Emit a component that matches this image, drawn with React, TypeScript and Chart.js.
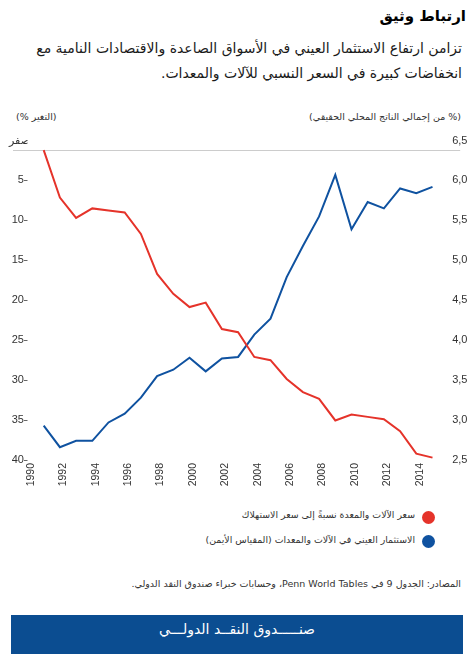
import React, { useEffect, useRef } from "react";
import { Chart, registerables } from "chart.js";

Chart.register(...registerables);

// ---- data ----
const years = [
  1991, 1992, 1993, 1994, 1995, 1996, 1997, 1998, 1999, 2000, 2001, 2002, 2003,
  2004, 2005, 2006, 2007, 2008, 2009, 2010, 2011, 2012, 2013, 2014, 2015,
];
// relative price of machinery & equipment to consumption (% change, left axis, inverted)
const priceRatio = [
  1.2, 7.15, 9.7, 8.5, 8.75, 9.0, 11.7, 16.7, 19.2, 20.85, 20.3, 23.6, 24.0,
  27.1, 27.5, 29.85, 31.5, 32.35, 35.05, 34.3, 34.6, 34.9, 36.4, 39.2, 39.7,
];
// real investment in machinery & equipment (% of real GDP, right axis)
const investment = [
  2.93, 2.66, 2.74, 2.74, 2.97, 3.08, 3.28, 3.55, 3.63, 3.78, 3.61, 3.77, 3.79,
  4.07, 4.27, 4.79, 5.18, 5.55, 6.07, 5.39, 5.73, 5.65, 5.9, 5.84, 5.92,
];
const xTicks = [1990, 1992, 1994, 1996, 1998, 2000, 2002, 2004, 2006, 2008, 2010, 2012, 2014];
const leftTicks = [0, 5, 10, 15, 20, 25, 30, 35, 40];
const rightTicks = [2.5, 3.0, 3.5, 4.0, 4.5, 5.0, 5.5, 6.0, 6.5];

const RED = "#e5332a";
const BLUE = "#0f52a0";
const NUM_FONT = "'Liberation Sans', Arial, 'DejaVu Sans', sans-serif";
const AR_FONT = "'DejaVu Sans', 'Liberation Sans', sans-serif";

// thin grey rule just under the top of the value range
const topLine = {
  id: "topLine",
  beforeDatasetsDraw(chart: any) {
    const { ctx, chartArea } = chart;
    const y = Math.round(chartArea.top + 9.5) + 0.5;
    ctx.save();
    ctx.strokeStyle = "#cccccc";
    ctx.lineWidth = 1;
    ctx.beginPath();
    ctx.moveTo(chartArea.left - 14.5, y);
    ctx.lineTo(chartArea.right + 11.5, y);
    ctx.stroke();
    ctx.restore();
  },
};

function LineChart() {
  const ref = useRef<HTMLCanvasElement | null>(null);
  useEffect(() => {
    if (!ref.current) return;
    const chart = new Chart(ref.current, {
      type: "line",
      data: {
        datasets: [
          {
            label: "سعر الآلات والمعدة نسبةً إلى سعر الاستهلاك",
            data: years.map((x, i) => ({ x, y: priceRatio[i] })),
            yAxisID: "yL",
            borderColor: RED,
            borderWidth: 2,
            pointRadius: 0,
            tension: 0,
            fill: false,
          },
          {
            label: "الاستثمار العيني في الآلات والمعدات (المقياس الأيمن)",
            data: years.map((x, i) => ({ x, y: investment[i] })),
            yAxisID: "yR",
            borderColor: BLUE,
            borderWidth: 2,
            pointRadius: 0,
            tension: 0,
            fill: false,
          },
        ],
      },
      options: {
        animation: false,
        responsive: false,
        maintainAspectRatio: false,
        layout: { padding: { top: 10.5, bottom: 0, left: 0, right: 0 } },
        plugins: { legend: { display: false }, tooltip: { enabled: false } },
        scales: {
          x: {
            type: "linear",
            min: 1990,
            max: 2016,
            afterBuildTicks: (s: any) => {
              s.ticks = xTicks.map((v) => ({ value: v }));
            },
            afterFit: (s: any) => {
              s.height = 40;
            },
            ticks: {
              autoSkip: false,
              maxRotation: 90,
              minRotation: 90,
              padding: 3,
              labelOffset: 3.5,
              color: "#333333",
              font: { family: NUM_FONT, size: 10.5 },
              callback: (v: any) => String(v),
            },
            grid: { display: false, drawTicks: false },
            border: { display: false },
          },
          yL: {
            type: "linear",
            position: "left",
            reverse: true,
            min: 0,
            max: 40,
            afterBuildTicks: (s: any) => {
              s.ticks = leftTicks.map((v) => ({ value: v }));
            },
            afterFit: (s: any) => {
              s.width = 27.5;
            },
            ticks: {
              autoSkip: false,
              padding: -2.5,
              color: "#333333",
              font: { family: NUM_FONT, size: 11 },
              callback: (v: any) => (v === 0 ? "صفر" : v + "–"),
            },
            grid: { display: false, drawTicks: false },
            border: { display: false },
          },
          yR: {
            type: "linear",
            position: "right",
            min: 2.5,
            max: 6.5,
            afterBuildTicks: (s: any) => {
              s.ticks = rightTicks.map((v) => ({ value: v }));
            },
            afterFit: (s: any) => {
              s.width = 25.3;
            },
            ticks: {
              autoSkip: false,
              padding: 3.5,
              color: "#333333",
              font: { family: NUM_FONT, size: 11 },
              callback: (v: any) => Number(v).toFixed(1).replace(".", ","),
            },
            grid: { display: false, drawTicks: false },
            border: { display: false },
          },
        },
      },
      plugins: [topLine],
    } as any);
    return () => chart.destroy();
  }, []);
  return (
    <canvas
      ref={ref}
      width={474}
      height={370}
      style={{ position: "absolute", left: 0, top: 130, width: 474, height: 370 }}
    />
  );
}

const abs = (s: React.CSSProperties): React.CSSProperties => ({
  position: "absolute",
  direction: "rtl",
  whiteSpace: "nowrap",
  fontFamily: AR_FONT,
  margin: 0,
  ...s,
});

export default function App() {
  return (
    <div
      style={{
        position: "absolute",
        left: 0,
        top: 0,
        width: 474,
        height: 654,
        background: "#ffffff",
        overflow: "hidden",
      }}
    >
      <div style={abs({ top: 7, right: 8, fontSize: 15, fontWeight: "bold", color: "#000" })}>
        ارتباط وثيق
      </div>
      <div
        style={abs({
          top: 36,
          right: 12,
          fontSize: 14,
          lineHeight: "25px",
          color: "#1a1a1a",
          textAlign: "right",
        })}
      >
        تزامن ارتفاع الاستثمار العيني في الأسواق الصاعدة والاقتصادات النامية مع
        <br />
        انخفاضات كبيرة في السعر النسبي للآلات والمعدات.
      </div>
      <div style={abs({ top: 111, right: 13, fontSize: 9.5, color: "#333" })}>
        (% من إجمالي الناتج المحلي الحقيقي)
      </div>
      <div style={abs({ top: 111, left: 16, fontSize: 9.5, color: "#333" })}>(التغير %)</div>

      <LineChart />

      <div style={abs({ top: 509, right: 59, fontSize: 9.4, color: "#333" })}>
        سعر الآلات والمعدة نسبةً إلى سعر الاستهلاك
      </div>
      <div
        style={{
          position: "absolute",
          left: 421.5,
          top: 510.5,
          width: 13,
          height: 13,
          borderRadius: "50%",
          background: RED,
        }}
      />
      <div style={abs({ top: 534, right: 59, fontSize: 9.4, color: "#333" })}>
        الاستثمار العيني في الآلات والمعدات (المقياس الأيمن)
      </div>
      <div
        style={{
          position: "absolute",
          left: 422,
          top: 535,
          width: 13,
          height: 13,
          borderRadius: "50%",
          background: BLUE,
        }}
      />

      <div style={abs({ top: 578, right: 13, fontSize: 9.5, color: "#333" })}>
        المصادر: الجدول 9 في Penn World Tables، وحسابات خبراء صندوق النقد الدولي.
      </div>

      <div
        style={{
          position: "absolute",
          left: 11,
          top: 615,
          width: 452,
          height: 39,
          background: "#0b4d91",
        }}
      />
      <div
        style={abs({
          top: 621,
          left: 11,
          width: 452,
          textAlign: "center",
          fontSize: 14,
          color: "#ffffff",
        })}
      >
        صنـــــدوق النقــد الدولـــي
      </div>
    </div>
  );
}
